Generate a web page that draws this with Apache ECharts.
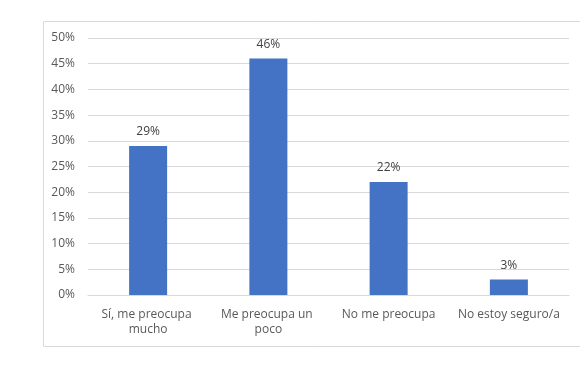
<!DOCTYPE html>
<html><head><meta charset="utf-8">
<script src="https://cdn.jsdelivr.net/npm/echarts@6/dist/echarts.min.js"></script>
<style>html,body{margin:0;padding:0;background:#fff}#c{width:580px;height:368px}</style>
</head><body><div id="c"></div>
<script>
var categories = ["Sí, me preocupa mucho", "Me preocupa un poco", "No me preocupa", "No estoy seguro/a"];
var values = [29, 46, 22, 3];
var yTicks = [0, 5, 10, 15, 20, 25, 30, 35, 40, 45, 50];

var chart = echarts.init(document.getElementById('c'));
var font = 'Open Sans';
chart.setOption({
  animation: false,
  graphic: [{
    type: 'rect', shape: {x: 43.5, y: 21.5, width: 560, height: 325},
    style: {fill: 'none', stroke: '#d9d9d9', lineWidth: 1}, silent: true
  }],
  grid: {left: 88, right: 11, top: 38, bottom: 73},
  xAxis: {
    type: 'category', data: categories,
    axisLine: {lineStyle: {color: '#d9d9d9'}},
    axisTick: {show: false},
    axisLabel: {color: '#595959', fontFamily: font, fontSize: 12, lineHeight: 15, margin: 12,
      width: 108, overflow: 'break', interval: 0}
  },
  yAxis: {
    type: 'value', min: yTicks[0], max: yTicks[yTicks.length - 1], interval: 5,
    axisLine: {show: false}, axisTick: {show: false},
    splitLine: {lineStyle: {color: '#d9d9d9'}},
    axisLabel: {color: '#595959', fontFamily: font, fontSize: 12, margin: 13, formatter: '{value}%'}
  },
  series: [{
    type: 'bar', data: values, barWidth: 38,
    itemStyle: {color: '#4472C4'},
    label: {show: true, position: 'top', distance: 8, color: '#404040', fontFamily: font, fontSize: 12, formatter: '{c}%'}
  }]
});
</script></body></html>
